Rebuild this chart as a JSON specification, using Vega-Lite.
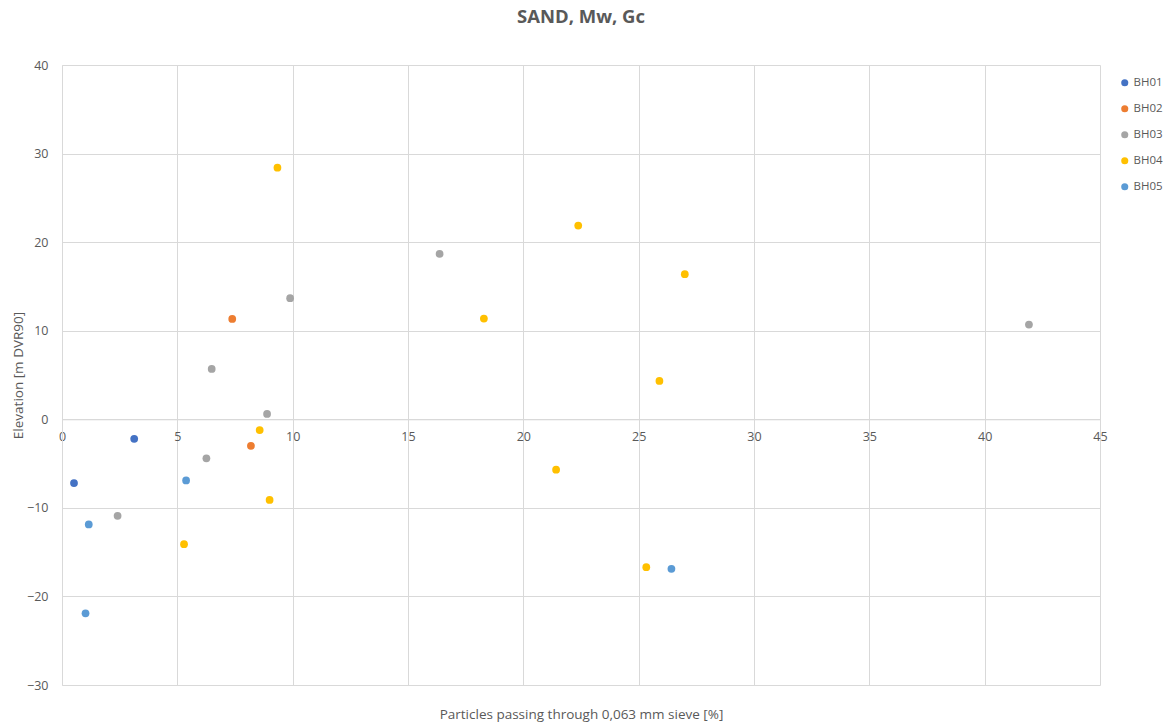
{
  "$schema": "https://vega.github.io/schema/vega-lite/v6.json",
  "width": 1038,
  "height": 620,
  "autosize": "none",
  "padding": {"left": 62, "top": 65, "right": 66, "bottom": 37},
  "background": "white",
  "title": {
    "text": "SAND, Mw, Gc",
    "anchor": "middle",
    "fontSize": 18.5,
    "fontWeight": "bold",
    "font": "Open Sans",
    "color": "#595959",
    "offset": 33
  },
  "config": {
    "view": {"stroke": null},
    "font": "Open Sans",
    "axis": {
      "labelColor": "#595959",
      "titleColor": "#595959",
      "labelFont": "Open Sans",
      "titleFont": "Open Sans",
      "labelFontSize": 12.5,
      "titleFontSize": 13.5,
      "titleFontWeight": "normal",
      "gridColor": "#D9D9D9",
      "domainColor": "#D9D9D9",
      "ticks": false
    }
  },
  "data": {
    "values": [
      {"bh": "BH01", "x": 0.52, "y": -7.2},
      {"bh": "BH01", "x": 3.13, "y": -2.2},
      {"bh": "BH02", "x": 7.38, "y": 11.33},
      {"bh": "BH02", "x": 8.19, "y": -3.0},
      {"bh": "BH03", "x": 2.41, "y": -10.9},
      {"bh": "BH03", "x": 6.26, "y": -4.41},
      {"bh": "BH03", "x": 6.49, "y": 5.68},
      {"bh": "BH03", "x": 8.89, "y": 0.6},
      {"bh": "BH03", "x": 9.89, "y": 13.67},
      {"bh": "BH03", "x": 16.37, "y": 18.67},
      {"bh": "BH03", "x": 41.92, "y": 10.69},
      {"bh": "BH04", "x": 9.34, "y": 28.4},
      {"bh": "BH04", "x": 8.57, "y": -1.22},
      {"bh": "BH04", "x": 9.0, "y": -9.1},
      {"bh": "BH04", "x": 5.29, "y": -14.1},
      {"bh": "BH04", "x": 18.29, "y": 11.37},
      {"bh": "BH04", "x": 22.38, "y": 21.87},
      {"bh": "BH04", "x": 27.0, "y": 16.38},
      {"bh": "BH04", "x": 25.9, "y": 4.33},
      {"bh": "BH04", "x": 21.42, "y": -5.69},
      {"bh": "BH04", "x": 25.33, "y": -16.7},
      {"bh": "BH05", "x": 5.38, "y": -6.9},
      {"bh": "BH05", "x": 1.16, "y": -11.87},
      {"bh": "BH05", "x": 1.02, "y": -21.9},
      {"bh": "BH05", "x": 26.42, "y": -16.88}
    ]
  },
  "mark": {"type": "point", "filled": true, "opacity": 1, "size": 60},
  "encoding": {
    "x": {
      "field": "x",
      "type": "quantitative",
      "scale": {"domain": [0, 45], "nice": false, "zero": false},
      "axis": {
        "title": "Particles passing through 0,063 mm sieve [%]",
        "values": [0, 5, 10, 15, 20, 25, 30, 35, 40, 45],
        "offset": -265.7,
        "labelPadding": 11,
        "titleY": 295,
        "titleBaseline": "middle",
        "labelFlush": false
      }
    },
    "y": {
      "field": "y",
      "type": "quantitative",
      "scale": {"domain": [-30, 40], "nice": false, "zero": false},
      "axis": {
        "title": "Elevation [m DVR90]",
        "values": [-30, -20, -10, 0, 10, 20, 30, 40],
        "labelPadding": 14,
        "titleX": -44,
        "titleBaseline": "middle",
        "labelFlush": false
      }
    },
    "color": {
      "field": "bh",
      "type": "nominal",
      "scale": {
        "domain": ["BH01", "BH02", "BH03", "BH04", "BH05"],
        "range": ["#4472C4", "#ED7D31", "#A5A5A5", "#FFC000", "#5B9BD5"]
      },
      "legend": {
        "title": null,
        "orient": "none",
        "legendX": 1057,
        "legendY": 12,
        "symbolType": "circle",
        "symbolSize": 50,
        "labelFontSize": 11.5,
        "labelColor": "#595959",
        "labelFont": "Open Sans",
        "labelOffset": 3,
        "rowPadding": 13
      }
    }
  }
}
